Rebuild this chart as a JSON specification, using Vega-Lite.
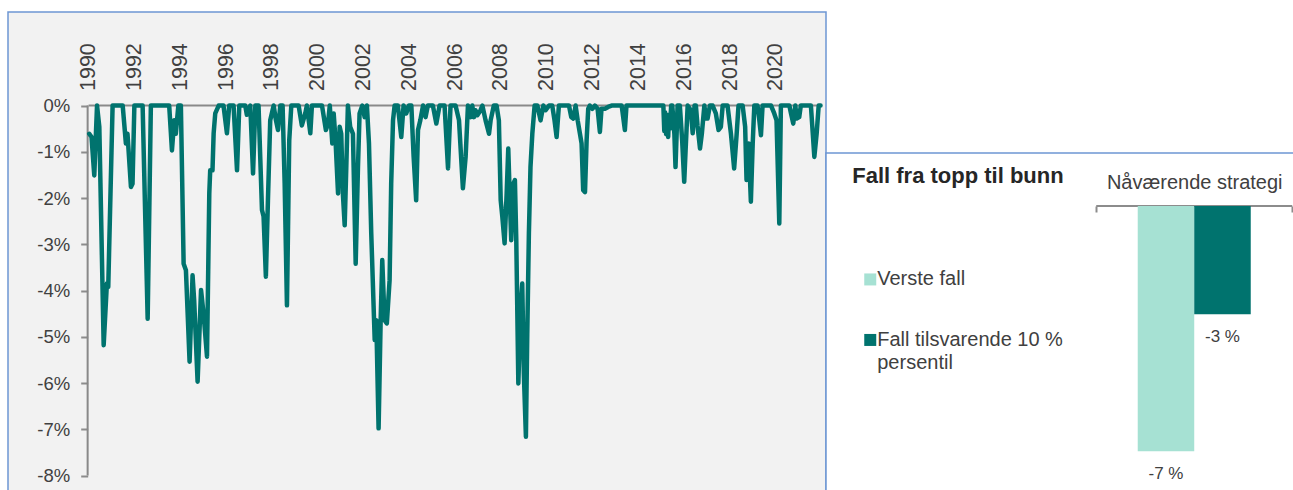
{
"$schema": "https://vega.github.io/schema/vega-lite/v6.json",
"background": "white",
"padding": {"left": 7, "top": 11, "right": 0, "bottom": 0},
"config": {"font": "Liberation Sans", "view": {"stroke": null}, "axis": {"grid": false}},
"bounds": "flush",
"spacing": 0,
"hconcat": [
{
"width": 818, "height": 482,
"view": {"fill": "#f2f2f2", "stroke": "#6d96d3", "strokeWidth": 1.5},
"data": {"values": [
{"t":1990.03,"v":-0.61},{"t":1990.13,"v":-0.68},{"t":1990.25,"v":-1.51},{"t":1990.37,"v":0},{"t":1990.47,"v":-0.46},{"t":1990.66,"v":-5.18},{"t":1990.80,"v":-3.85},{"t":1990.86,"v":-3.92},{"t":1991.05,"v":0},{"t":1991.49,"v":0},{"t":1991.63,"v":-0.82},{"t":1991.70,"v":-0.61},{"t":1991.85,"v":-1.76},{"t":1991.92,"v":-1.69},{"t":1992.00,"v":0},{"t":1992.36,"v":0},{"t":1992.58,"v":-4.61},{"t":1992.72,"v":0},{"t":1993.52,"v":0},{"t":1993.64,"v":-0.97},{"t":1993.74,"v":-0.32},{"t":1993.81,"v":-0.61},{"t":1993.92,"v":0},{"t":1994.03,"v":0},{"t":1994.15,"v":-3.42},{"t":1994.25,"v":-3.56},{"t":1994.41,"v":-5.54},{"t":1994.54,"v":-3.67},{"t":1994.61,"v":-4.21},{"t":1994.76,"v":-5.97},{"t":1994.91,"v":-3.99},{"t":1995.02,"v":-4.50},{"t":1995.17,"v":-5.43},{"t":1995.27,"v":-1.90},{"t":1995.31,"v":-1.40},{"t":1995.41,"v":-1.40},{"t":1995.46,"v":-0.60},{"t":1995.53,"v":-0.17},{"t":1995.68,"v":0},{"t":1995.89,"v":0},{"t":1996.04,"v":-0.60},{"t":1996.14,"v":0},{"t":1996.33,"v":0},{"t":1996.48,"v":-1.40},{"t":1996.58,"v":0},{"t":1996.84,"v":0},{"t":1996.91,"v":-0.20},{"t":1997.06,"v":0},{"t":1997.18,"v":-1.47},{"t":1997.28,"v":0},{"t":1997.42,"v":0},{"t":1997.57,"v":-2.26},{"t":1997.64,"v":-2.40},{"t":1997.74,"v":-3.70},{"t":1997.83,"v":-2.05},{"t":1997.93,"v":-0.32},{"t":1998.08,"v":0},{"t":1998.18,"v":-0.32},{"t":1998.27,"v":-0.53},{"t":1998.37,"v":0},{"t":1998.47,"v":0},{"t":1998.56,"v":-1.69},{"t":1998.66,"v":-4.32},{"t":1998.76,"v":-0.75},{"t":1998.85,"v":0},{"t":1999.17,"v":0},{"t":1999.31,"v":-0.43},{"t":1999.46,"v":-0.17},{"t":1999.53,"v":0},{"t":1999.68,"v":-0.60},{"t":1999.75,"v":0},{"t":2000.19,"v":0},{"t":2000.36,"v":-0.53},{"t":2000.45,"v":-0.40},{"t":2000.53,"v":0},{"t":2000.64,"v":-0.82},{"t":2000.70,"v":-0.17},{"t":2000.78,"v":-0.75},{"t":2000.89,"v":-1.90},{"t":2000.96,"v":-0.46},{"t":2001.03,"v":-0.61},{"t":2001.10,"v":-1.90},{"t":2001.18,"v":-2.59},{"t":2001.25,"v":-1.33},{"t":2001.32,"v":0},{"t":2001.42,"v":-0.46},{"t":2001.54,"v":-0.61},{"t":2001.66,"v":-3.42},{"t":2001.76,"v":-1.33},{"t":2001.83,"v":-0.17},{"t":2001.95,"v":0},{"t":2002.05,"v":-0.25},{"t":2002.15,"v":0},{"t":2002.24,"v":-0.82},{"t":2002.34,"v":-2.77},{"t":2002.49,"v":-5.07},{"t":2002.56,"v":-4.64},{"t":2002.66,"v":-6.98},{"t":2002.75,"v":-4.64},{"t":2002.82,"v":-3.34},{"t":2002.92,"v":-4.64},{"t":2003.02,"v":-4.71},{"t":2003.14,"v":-3.78},{"t":2003.21,"v":-1.69},{"t":2003.29,"v":-0.32},{"t":2003.36,"v":0},{"t":2003.50,"v":0},{"t":2003.65,"v":-0.68},{"t":2003.75,"v":0},{"t":2003.87,"v":-0.17},{"t":2003.98,"v":0},{"t":2004.09,"v":0},{"t":2004.19,"v":-1.11},{"t":2004.30,"v":-2.05},{"t":2004.38,"v":-0.53},{"t":2004.48,"v":-0.32},{"t":2004.60,"v":0},{"t":2004.71,"v":-0.25},{"t":2004.81,"v":0},{"t":2005.03,"v":0},{"t":2005.18,"v":-0.39},{"t":2005.32,"v":0},{"t":2005.54,"v":0},{"t":2005.69,"v":-1.36},{"t":2005.80,"v":0},{"t":2006.02,"v":0},{"t":2006.17,"v":-0.32},{"t":2006.34,"v":-1.79},{"t":2006.46,"v":-1.10},{"t":2006.56,"v":0},{"t":2006.68,"v":-0.25},{"t":2006.75,"v":0},{"t":2006.82,"v":-0.25},{"t":2006.89,"v":-0.10},{"t":2006.97,"v":-0.21},{"t":2007.11,"v":-0.10},{"t":2007.19,"v":0},{"t":2007.33,"v":-0.32},{"t":2007.48,"v":-0.61},{"t":2007.55,"v":-0.32},{"t":2007.69,"v":0},{"t":2007.81,"v":0},{"t":2007.91,"v":-0.32},{"t":2007.99,"v":-2.05},{"t":2008.06,"v":-2.40},{"t":2008.16,"v":-2.98},{"t":2008.25,"v":-1.90},{"t":2008.32,"v":-0.93},{"t":2008.39,"v":-2.05},{"t":2008.45,"v":-2.91},{"t":2008.54,"v":-1.69},{"t":2008.61,"v":-1.61},{"t":2008.67,"v":-2.91},{"t":2008.76,"v":-6.01},{"t":2008.86,"v":-4.35},{"t":2008.93,"v":-3.85},{"t":2009.00,"v":-5.79},{"t":2009.09,"v":-7.16},{"t":2009.15,"v":-4.93},{"t":2009.22,"v":-2.77},{"t":2009.29,"v":-1.33},{"t":2009.37,"v":-0.61},{"t":2009.47,"v":0},{"t":2009.59,"v":0},{"t":2009.73,"v":-0.32},{"t":2009.85,"v":0},{"t":2009.95,"v":-0.10},{"t":2010.10,"v":0},{"t":2010.24,"v":0},{"t":2010.34,"v":-0.32},{"t":2010.43,"v":-0.68},{"t":2010.53,"v":0},{"t":2010.97,"v":0},{"t":2011.07,"v":-0.25},{"t":2011.16,"v":-0.28},{"t":2011.26,"v":0},{"t":2011.35,"v":-0.32},{"t":2011.45,"v":-0.61},{"t":2011.52,"v":-0.82},{"t":2011.59,"v":-1.83},{"t":2011.67,"v":-1.87},{"t":2011.74,"v":-0.75},{"t":2011.81,"v":-0.07},{"t":2011.88,"v":0},{"t":2011.99,"v":-0.07},{"t":2012.10,"v":0},{"t":2012.22,"v":-0.07},{"t":2012.32,"v":-0.57},{"t":2012.39,"v":-0.07},{"t":2012.54,"v":-0.07},{"t":2012.68,"v":-0.03},{"t":2012.83,"v":0},{"t":2013.27,"v":0},{"t":2013.41,"v":-0.53},{"t":2013.48,"v":0},{"t":2015.09,"v":0},{"t":2015.13,"v":-0.55},{"t":2015.17,"v":-0.15},{"t":2015.21,"v":-0.62},{"t":2015.25,"v":-0.25},{"t":2015.30,"v":-0.68},{"t":2015.34,"v":-0.20},{"t":2015.38,"v":-0.50},{"t":2015.43,"v":0},{"t":2015.48,"v":0},{"t":2015.57,"v":-0.61},{"t":2015.62,"v":-1.33},{"t":2015.71,"v":0},{"t":2015.81,"v":0},{"t":2015.91,"v":-0.75},{"t":2016.00,"v":-1.65},{"t":2016.06,"v":-0.97},{"t":2016.15,"v":0},{"t":2016.29,"v":-0.10},{"t":2016.37,"v":-0.60},{"t":2016.45,"v":0},{"t":2016.51,"v":0},{"t":2016.58,"v":-0.43},{"t":2016.69,"v":-0.93},{"t":2016.77,"v":-0.61},{"t":2016.88,"v":0},{"t":2016.95,"v":-0.28},{"t":2017.02,"v":-0.28},{"t":2017.12,"v":0},{"t":2017.24,"v":0},{"t":2017.38,"v":-0.17},{"t":2017.50,"v":-0.53},{"t":2017.60,"v":-0.46},{"t":2017.68,"v":0},{"t":2017.89,"v":0},{"t":2018.04,"v":-0.61},{"t":2018.18,"v":-1.36},{"t":2018.29,"v":-0.61},{"t":2018.37,"v":0},{"t":2018.55,"v":0},{"t":2018.66,"v":-0.46},{"t":2018.72,"v":-1.61},{"t":2018.81,"v":-0.82},{"t":2018.91,"v":-2.08},{"t":2018.99,"v":-0.82},{"t":2019.06,"v":0},{"t":2019.20,"v":0},{"t":2019.28,"v":-0.32},{"t":2019.35,"v":-0.64},{"t":2019.42,"v":0},{"t":2019.79,"v":0},{"t":2019.93,"v":-0.17},{"t":2020.03,"v":-0.32},{"t":2020.15,"v":-2.55},{"t":2020.22,"v":0},{"t":2020.59,"v":0},{"t":2020.66,"v":-0.17},{"t":2020.76,"v":-0.39},{"t":2020.85,"v":0},{"t":2020.91,"v":-0.28},{"t":2021.02,"v":-0.25},{"t":2021.09,"v":0},{"t":2021.53,"v":0},{"t":2021.68,"v":-1.11},{"t":2021.78,"v":-0.61},{"t":2021.87,"v":0},{"t":2021.95,"v":0}
]},
"layer": [
{"data": {"values": [{}]}, "mark": {"type": "rule", "color": "#898989", "strokeWidth": 2},
 "encoding": {
  "x": {"datum": 1990, "scale": {"domain": [1986.484, 2022.189], "nice": false, "zero": false},
   "axis": {"orient": "top", "offset": -93.5, "domain": false, "ticks": false,
    "values": [1990,1992,1994,1996,1998,2000,2002,2004,2006,2008,2010,2012,2014,2016,2018,2020],
    "format": "d", "labelAngle": -90, "labelAlign": "left", "labelBaseline": "middle",
    "labelPadding": 15, "labelFontSize": 21.5, "labelColor": "#404040", "labelOverlap": false, "title": null}},
  "x2": {"datum": 2021.95},
  "y": {"datum": 0, "scale": {"domain": [-8.399, 2.023], "nice": false, "zero": false},
   "axis": {"orient": "left", "offset": -79.7, "domain": false,
    "values": [0,-1,-2,-3,-4,-5,-6,-7,-8], "labelExpr": "datum.value + '%'",
    "tickSize": 7, "tickColor": "#8c8c8c", "tickWidth": 2, "labelPadding": 11,
    "labelFontSize": 18.5, "labelColor": "#404040", "title": null}}
 }},
{"data": {"values": [{}]}, "mark": {"type": "rule", "color": "#898989", "strokeWidth": 2},
 "encoding": {"x": {"datum": 1989.96}, "y": {"datum": 0}, "y2": {"datum": -8}}},
{"mark": {"type": "line", "color": "#00736e", "strokeWidth": 4.5, "strokeJoin": "round", "strokeCap": "round"},
 "encoding": {
  "x": {"field": "t", "type": "quantitative"},
  "y": {"field": "v", "type": "quantitative"}
 }}
]
},
{
"bounds": "flush",
"spacing": 0,
"vconcat": [
{"width": 475, "height": 141, "data": {"values": []}, "mark": "point"},
{
"width": 475, "height": 341,
"view": {"fill": "white", "stroke": "#6d96d3", "strokeWidth": 1.5},
"data": {"values": [
 {"cat": "Nåværende strategi", "serie": "Verste fall", "v": -7.16, "lbl": "-7 %"},
 {"cat": "Nåværende strategi", "serie": "Fall tilsvarende 10 % persentil", "v": -3.16, "lbl": "-3 %"}
]},
"encoding": {
 "x": {"field": "cat", "type": "nominal",
  "scale": {"paddingOuter": 0.7117, "paddingInner": 0, "align": 0.9686},
  "axis": {"orient": "top", "offset": -53, "domain": false, "tickBand": "extent",
   "tickSize": -6, "tickColor": "#8c8c8c", "tickWidth": 2, "labelAngle": 0,
   "labelFontSize": 20, "labelColor": "#404040", "labelPadding": 19.5, "title": null}}
},
"layer": [
 {"data": {"values": [{"cat": "Nåværende strategi"}]},
  "mark": {"type": "bar", "filled": false, "color": "#8c8c8c", "strokeWidth": 2},
  "encoding": {"y": {"datum": 0, "axis": null}, "y2": {"datum": 0}}},
 {"mark": {"type": "bar"},
  "encoding": {
   "xOffset": {"field": "serie", "type": "nominal", "sort": ["Verste fall", "Fall tilsvarende 10 % persentil"],
    "scale": {"paddingOuter": 0.7345, "paddingInner": 0}},
   "y": {"field": "v", "type": "quantitative", "scale": {"domain": [-8.408, 1.546], "nice": false, "zero": false}, "axis": null},
   "y2": {"datum": 0},
   "color": {"field": "serie", "type": "nominal",
    "scale": {"domain": ["Verste fall", "Fall tilsvarende 10 % persentil"], "range": ["#a6e1d3", "#00736e"]},
    "legend": {"orient": "none", "legendX": 844.25, "legendY": 153.95, "padding": 0,
     "title": "Fall fra topp til bunn", "titleFontSize": 22, "titleFontWeight": "bold", "titleColor": "#262626",
     "titlePadding": 81.5, "titleLimit": 400,
     "labelFontSize": 20, "labelColor": "#404040", "labelLimit": 400, "labelOffset": -3,
     "symbolOffset": 8, "symbolType": "square", "symbolSize": 144, "symbolStrokeWidth": 0,
     "rowPadding": 40.5, "labelBaseline": "alphabetic",
     "labelExpr": "datum.label == 'Fall tilsvarende 10 % persentil' ? ['Fall tilsvarende 10 %', 'persentil'] : datum.label",
     "encode": {"labels": {"update": {"dy": {"value": 6}, "lineHeight": {"value": 23}}}}}}
  }},
 {"mark": {"type": "text", "baseline": "top", "dy": 15, "fontSize": 17, "color": "#404040"},
  "encoding": {
   "xOffset": {"field": "serie", "type": "nominal", "sort": ["Verste fall", "Fall tilsvarende 10 % persentil"]},
   "y": {"field": "v", "type": "quantitative", "axis": null},
   "text": {"field": "lbl"}
  }}
]
}
]
}
]
}
